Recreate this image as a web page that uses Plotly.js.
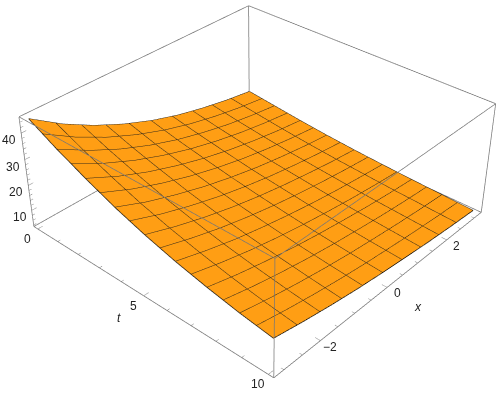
<!DOCTYPE html>
<html><head><meta charset="utf-8">
<script src="https://cdn.plot.ly/plotly-3.0.1.min.js"></script>
<style>html,body{margin:0;padding:0;width:498px;height:401px;overflow:hidden;background:#fff}
#wrap{position:absolute;left:0;top:0;width:498px;height:401px;overflow:hidden}
#g{position:absolute}</style></head><body><div id="wrap"><div id="g"></div></div>
<script>
var tValues=[0,1.25,2.5,3.75,5,6.25,7.5,8.75,10];
var xValues=[-3.1416,-2.3562,-1.5708,-0.7854,0,0.7854,1.5708,2.3562,3.1416];
var zByT=[
[45.2,37.4,31,25.7,21.3,17.8,15.1,12.9,11.2],
[39.4,32.8,27.2,22.6,18.8,15.8,13.3,11.4,9.9],
[34.3,28.6,23.9,20,16.7,14,11.8,10,8.6],
[29.6,24.8,20.9,17.5,14.7,12.3,10.4,8.8,7.5],
[25.7,21.7,18.3,15.4,13,11,9.3,7.8,6.6],
[22.4,19,16,13.6,11.5,9.7,8.2,7,5.9],
[19.7,16.7,14.2,12,10.2,8.7,7.3,6.2,5.3],
[17.4,14.8,12.6,10.7,9.1,7.8,6.6,5.6,4.8],
[15.6,13.3,11.3,9.6,8.2,7,5.9,5,4.3]];
var tTicks=[0,5,10], xTicks=[-2,0,2], xTickText=['\u22122','0','2'], zTicks=[10,20,30,40];
var tMinor=[1,2,3,4,6,7,8,9], xMinor=[-3,-2.5,-1.5,-1,-0.5,0.5,1,1.5,2.5,3], zMinor=[4,6,8,12,14,16,18,22,24,26,28,32,34,36,38,42,44];
var T0=-0.2,T1=10.2,X0=-3.268,X1=3.268,Z0=3.4,Z1=46;
var zGrid=xValues.map(function(_,c){return tValues.map(function(_,r){return zByT[r][c];});});
var H=949,W=Math.round(H*498/401),CX=259.8,CY=166.5;
var el=document.getElementById('g');
el.style.left=(CX-W/2)+'px';el.style.top=(CY-H/2)+'px';
var LC='#777777',TC='#888888',ORANGE='#ff9e14',MESH='#33291a',FONT={family:'Liberation Sans',size:12,color:'#222222'};
function ax(a,b){return {title:{text:''},range:[a,b],autorange:false,showticklabels:false,ticks:'',showgrid:false,zeroline:false,showbackground:false,showspikes:false,showline:false};}
var trace={type:'surface',x:tValues,y:xValues,z:zGrid,showscale:false,colorscale:[[0,ORANGE],[1,ORANGE]],
 lighting:{ambient:1,diffuse:0,specular:0,roughness:1,fresnel:0},hoverinfo:'skip',
 contours:{x:{show:true,start:0.625,end:9.4,size:0.625,color:MESH,width:2},y:{show:true,start:-2.5133,end:2.5133,size:0.6283,color:MESH,width:2},z:{show:false}}};
function bag(){return {x:[],y:[],z:[]};}
function seg(t,a,b){t.x.push(a[0],b[0],null);t.y.push(a[1],b[1],null);t.z.push(a[2],b[2],null);}
var box=bag(),tk=bag(),rim=bag();
[T0,T1].forEach(function(t){[X0,X1].forEach(function(x){seg(box,[t,x,Z0],[t,x,Z1]);});});
[T0,T1].forEach(function(t){[Z0,Z1].forEach(function(z){seg(box,[t,X0,z],[t,X1,z]);});});
[X0,X1].forEach(function(x){[Z0,Z1].forEach(function(z){seg(box,[T0,x,z],[T1,x,z]);});});
var DT=0.2,DX=0.126;
tTicks.forEach(function(v){seg(tk,[v,X0,Z0],[v,X0+DX,Z0]);});
tMinor.forEach(function(v){seg(tk,[v,X0,Z0],[v,X0+DX*0.55,Z0]);});
xTicks.forEach(function(v){seg(tk,[T1,v,Z0],[T1-DT,v,Z0]);});
xMinor.forEach(function(v){seg(tk,[T1,v,Z0],[T1-DT*0.55,v,Z0]);});
zTicks.forEach(function(v){seg(tk,[T0,X0,v],[T0,X0+DX,v]);});
zMinor.forEach(function(v){seg(tk,[T0,X0,v],[T0,X0+DX*0.55,v]);});
var nt=tValues.length,nx=xValues.length;
for(var j=0;j<nx-1;j++){seg(rim,[tValues[0],xValues[j],zByT[0][j]],[tValues[0],xValues[j+1],zByT[0][j+1]]);seg(rim,[tValues[nt-1],xValues[j],zByT[nt-1][j]],[tValues[nt-1],xValues[j+1],zByT[nt-1][j+1]]);}
for(var i=0;i<nt-1;i++){seg(rim,[tValues[i],xValues[0],zByT[i][0]],[tValues[i+1],xValues[0],zByT[i+1][0]]);seg(rim,[tValues[i],xValues[nx-1],zByT[i][nx-1]],[tValues[i+1],xValues[nx-1],zByT[i+1][nx-1]]);}
var boxTrace={type:'scatter3d',mode:'lines',x:box.x,y:box.y,z:box.z,line:{color:LC,width:1.5},hoverinfo:'skip',showlegend:false};
var tickTrace={type:'scatter3d',mode:'lines',x:tk.x,y:tk.y,z:tk.z,line:{color:TC,width:1},hoverinfo:'skip',showlegend:false};
var rimTrace={type:'scatter3d',mode:'lines',x:rim.x,y:rim.y,z:rim.z,line:{color:'#111111',width:1.5},hoverinfo:'skip',showlegend:false};
var ann=[];
function lab(x,y,z,text,dx,dy,italic){ann.push({x:x,y:y,z:z,text:italic?'<i>'+text+'</i>':text,showarrow:false,xshift:dx,yshift:dy,font:FONT,xanchor:'center',yanchor:'middle'});}
tTicks.forEach(function(v){lab(v,X0,Z0,String(v),-10,-10);});
xTicks.forEach(function(v,i){lab(T1,v,Z0,xTickText[i],10,-6);});
zTicks.forEach(function(v){lab(T0,X0,v,String(v),-12,-7);});
lab(5,X0,Z0,'t',-25,-22,true);
lab(T1,0,Z0,'x',31,-20,true);
var E=0.001;
var layout={width:W,height:H,margin:{l:0,r:0,t:0,b:0},paper_bgcolor:'#fff',showlegend:false,
 scene:{domain:{x:[0,1],y:[0,1]},aspectmode:'manual',aspectratio:{x:1,y:1,z:0.401},
  camera:{eye:{x:1.948,y:-2.168,z:1.945},center:{x:0,y:0,z:0},up:{x:0,y:0,z:1},projection:{type:'perspective'}},
  xaxis:ax(T0-E,T1+E),yaxis:ax(X0-E,X1+E),zaxis:ax(Z0-E,Z1+E),annotations:ann}};
Plotly.newPlot(el,[trace,boxTrace,tickTrace,rimTrace],layout,{displayModeBar:false});
</script></body></html>
